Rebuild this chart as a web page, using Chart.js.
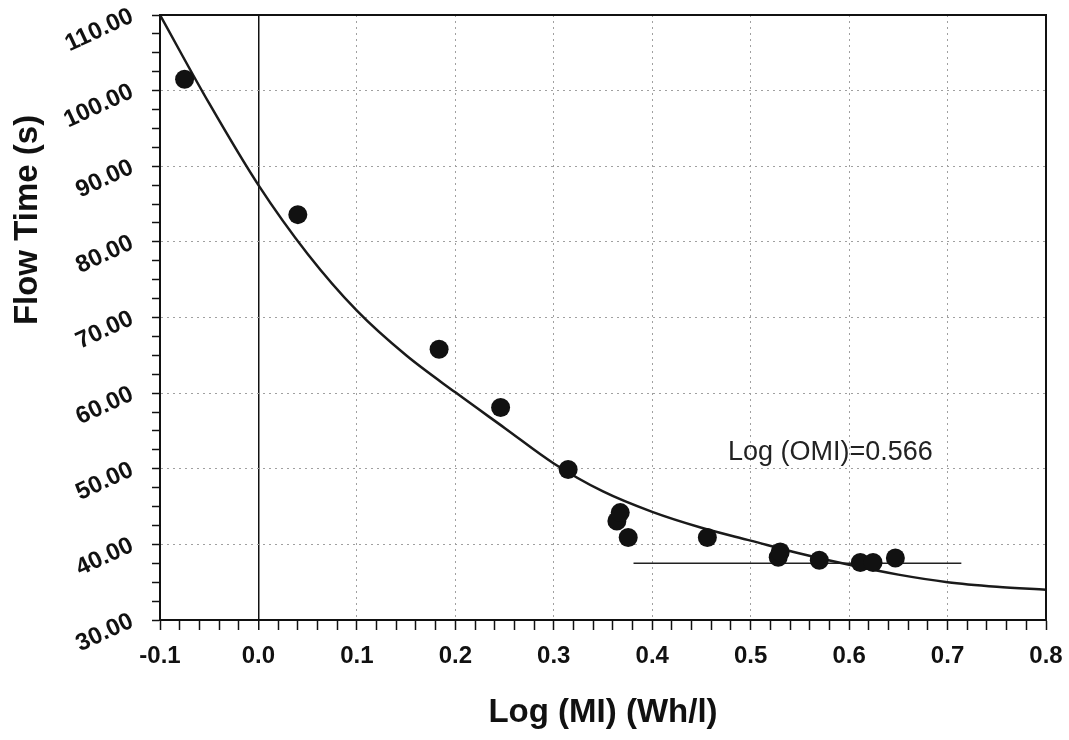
<!DOCTYPE html>
<html>
<head>
<meta charset="utf-8">
<title>Flow Time vs Log (MI)</title>
<script src="https://cdn.jsdelivr.net/npm/chart.js@4.4.1/dist/chart.umd.min.js"></script>
<style>
  body { margin: 0; background: #fff; }
  #wrap { width: 1069px; height: 740px; }
</style>
</head>
<body>
<div id="wrap"><canvas id="flowChart" width="1069" height="740"></canvas></div>
<script>
// measured points (Log MI vs flow time)
const pointX = [-0.075, 0.040, 0.1835, 0.246, 0.3146, 0.3641, 0.3675, 0.3756, 0.456, 0.528, 0.530, 0.5697, 0.6114, 0.6243, 0.647];
const pointY = [101.5, 83.6, 65.8, 58.1, 49.9, 43.1, 44.2, 40.9, 40.9, 38.3, 39.0, 37.9, 37.6, 37.6, 38.2];

// fitted curve
const curveX = [-0.1, -0.05, 0.0, 0.05, 0.1, 0.15, 0.2, 0.25, 0.3, 0.35, 0.4, 0.45, 0.5, 0.55, 0.6, 0.65, 0.7, 0.75, 0.8];
const curveY = [110, 98.3, 87.5, 78.4, 70.9, 65.0, 60.1, 55.4, 50.7, 47.0, 44.3, 42.2, 40.5, 38.8, 37.3, 36.0, 35.0, 34.4, 34.0];

// horizontal OMI level line
const levelX = [0.381, 0.714];
const levelY = [37.5, 37.5];

const xMin = -0.1, xMax = 0.8, xMinorStep = 0.02;
const yMin = 30, yMax = 110, yMinorStep = 2.5;

const omiLabel = 'Log (OMI)=0.566';
const omiAt = { x: 0.477, y: 52.1 };

const toXY = (xs, ys) => xs.map((x, i) => ({ x: x, y: ys[i] }));

const isMajorX = v => Math.abs(v * 10 - Math.round(v * 10)) < 1e-6;
const isMajorY = v => Math.abs(v / 10 - Math.round(v / 10)) < 1e-6;

// border around the plot + y title + annotation text
const extras = {
  id: 'extras',
  afterDraw(chart) {
    const ctx = chart.ctx;
    const a = chart.chartArea;
    ctx.save();
    ctx.strokeStyle = '#111';
    ctx.lineWidth = 2;
    ctx.beginPath();
    ctx.moveTo(a.left, a.top);
    ctx.lineTo(a.right, a.top);
    ctx.lineTo(a.right, a.bottom);
    ctx.stroke();

    ctx.fillStyle = '#111';
    ctx.font = 'bold 33px "Liberation Sans", Arial, sans-serif';
    ctx.textAlign = 'center';
    ctx.textBaseline = 'middle';
    ctx.translate(28, 220);
    ctx.rotate(-Math.PI / 2);
    ctx.fillText('Flow Time (s)', 0, 0);
    ctx.restore();

    ctx.save();
    ctx.fillStyle = '#222';
    ctx.font = '27px "Liberation Sans", Arial, sans-serif';
    ctx.textAlign = 'left';
    ctx.textBaseline = 'middle';
    ctx.fillText(omiLabel, chart.scales.x.getPixelForValue(omiAt.x), chart.scales.y.getPixelForValue(omiAt.y));
    ctx.restore();
  }
};

const ctx = document.getElementById('flowChart').getContext('2d');
const flowChart = new Chart(ctx, {
  type: 'scatter',
  data: {
    datasets: [
      {
        label: 'Measured',
        data: toXY(pointX, pointY),
        pointRadius: 9.5,
        pointHoverRadius: 9.5,
        backgroundColor: '#111',
        borderWidth: 0
      },
      {
        label: 'Fit',
        type: 'line',
        data: toXY(curveX, curveY),
        borderColor: '#1a1a1a',
        borderWidth: 2.5,
        pointRadius: 0,
        cubicInterpolationMode: 'monotone',
        fill: false
      },
      {
        label: 'OMI level',
        type: 'line',
        data: toXY(levelX, levelY),
        borderColor: '#222',
        borderWidth: 1.5,
        pointRadius: 0,
        fill: false
      }
    ]
  },
  options: {
    responsive: false,
    animation: false,
    layout: { padding: { left: 10, right: 23, top: 15, bottom: 7 } },
    plugins: {
      legend: { display: false },
      tooltip: { enabled: false }
    },
    scales: {
      x: {
        type: 'linear',
        min: xMin,
        max: xMax,
        afterBuildTicks: scale => {
          const ticks = [];
          for (let i = 0; i <= Math.round((xMax - xMin) / xMinorStep); i++) {
            ticks.push({ value: Math.round((xMin + i * xMinorStep) * 100) / 100 });
          }
          scale.ticks = ticks;
        },
        afterFit: scale => {
          scale.height = 113;
          scale.paddingLeft = 0;
          scale.paddingRight = 0;
        },
        ticks: {
          autoSkip: false,
          maxRotation: 0,
          padding: 12,
          color: '#111',
          font: { family: '"Liberation Sans", Arial, sans-serif', size: 24, weight: 'bold' },
          callback: v => isMajorX(v) ? v.toFixed(1) : ''
        },
        grid: {
          color: c => {
            if (!c.tick) return 'rgba(0,0,0,0)';
            if (Math.abs(c.tick.value) < 1e-9) return '#111';
            return isMajorX(c.tick.value) ? '#a0a0a0' : 'rgba(0,0,0,0)';
          },
          lineWidth: c => (c.tick && Math.abs(c.tick.value) < 1e-9) ? 1.5 : 1,
          tickColor: '#111',
          tickWidth: 1.5,
          tickLength: 10
        },
        border: {
          color: '#111',
          width: 2,
          dash: c => (c.tick && Math.abs(c.tick.value) < 1e-9) ? [] : [2, 4]
        },
        title: {
          display: true,
          text: 'Log (MI) (Wh/l)',
          color: '#111',
          padding: { top: 0, bottom: 0 },
          font: { family: '"Liberation Sans", Arial, sans-serif', size: 33, weight: 'bold' }
        }
      },
      y: {
        type: 'linear',
        min: yMin,
        max: yMax,
        afterBuildTicks: scale => {
          const ticks = [];
          for (let v = yMin; v <= yMax + 1e-9; v += yMinorStep) ticks.push({ value: v });
          scale.ticks = ticks;
        },
        afterFit: scale => {
          scale.width = 150;
          scale.paddingTop = 0;
          scale.paddingBottom = 0;
        },
        ticks: {
          autoSkip: false,
          minRotation: 25,
          maxRotation: 25,
          padding: 20,
          color: '#111',
          font: { family: '"Liberation Sans", Arial, sans-serif', size: 24, weight: 'bold' },
          callback: v => isMajorY(v) ? v.toFixed(2) : ''
        },
        grid: {
          color: c => (c.tick && isMajorY(c.tick.value) && c.tick.value > yMin && c.tick.value < yMax) ? '#a0a0a0' : 'rgba(0,0,0,0)',
          tickColor: '#111',
          tickWidth: 1.5,
          tickLength: 8
        },
        border: { color: '#111', width: 2, dash: [2, 4] }
      }
    }
  },
  plugins: [extras]
});
</script>
</body>
</html>
